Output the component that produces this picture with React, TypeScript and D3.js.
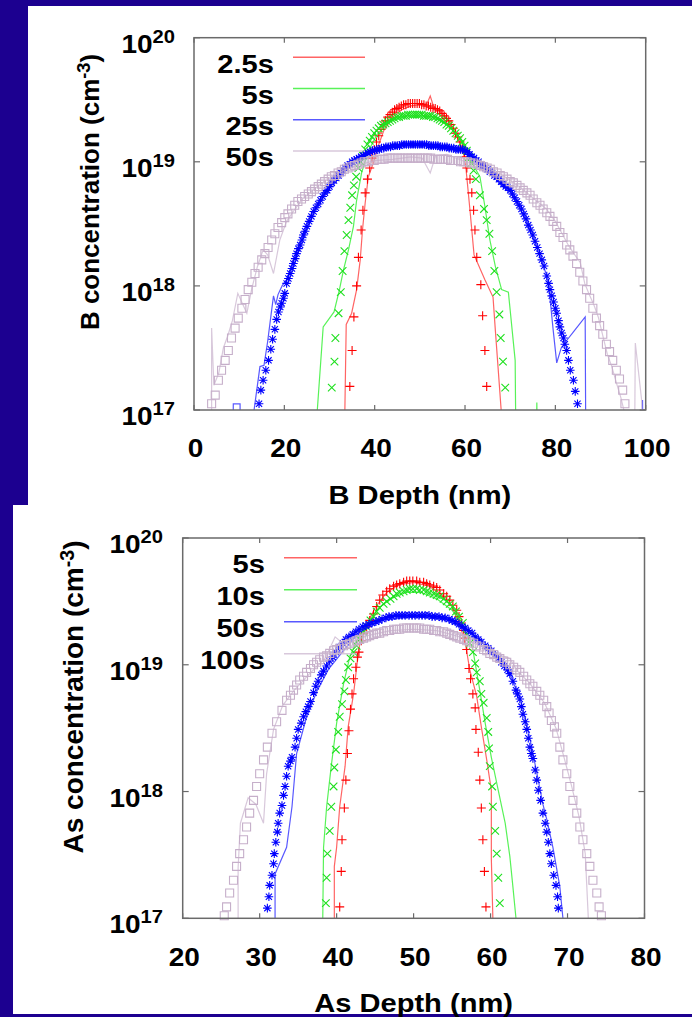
import React from "react";
import * as d3 from "d3";

type Pt = [number, number]; // [depth (nm), log10 concentration (cm^-3)]

// ---------- B profiles (top panel) ----------
const bTimes = ["2.5s", "5s", "25s", "50s"];
const bDepthTicks = [0, 20, 40, 60, 80, 100];

const b1Pts: Pt[] = [
  [34.5, 17.19], [35.0, 17.48], [35.4, 17.75], [36.0, 18.0], [36.4, 18.23], [37.0, 18.45], [37.4, 18.61],
  [37.9, 18.75], [38.4, 18.86], [38.9, 18.95], [39.4, 19.03], [39.9, 19.1], [40.4, 19.16], [40.9, 19.21],
  [41.4, 19.26], [41.9, 19.3], [42.4, 19.33], [42.9, 19.36], [43.4, 19.38], [43.9, 19.4], [44.4, 19.42],
  [44.9, 19.43], [45.4, 19.44], [45.9, 19.45], [46.4, 19.46], [46.9, 19.46], [47.4, 19.47], [47.9, 19.47],
  [48.4, 19.47], [48.9, 19.47], [49.4, 19.47], [49.9, 19.47], [50.4, 19.46], [50.9, 19.46], [51.4, 19.45],
  [51.9, 19.45], [52.4, 19.44], [52.9, 19.43], [53.4, 19.43], [53.9, 19.42], [54.4, 19.41], [54.9, 19.39],
  [55.4, 19.37], [55.9, 19.35], [56.4, 19.33], [56.9, 19.3], [57.4, 19.27], [57.9, 19.23], [58.4, 19.2],
  [58.9, 19.16], [59.4, 19.11], [59.9, 19.04], [60.4, 18.95], [61.1, 18.86], [61.5, 18.75], [61.9, 18.61],
  [62.2, 18.45], [62.6, 18.23], [63.5, 18.01], [63.9, 17.76], [64.4, 17.48], [64.8, 17.19],
];
const b1Line: Pt[] = [
  [33.4, 16.5], [33.4, 17.0], [33.7, 17.69], [34.9, 17.78], [36.0, 17.97], [36.8, 18.21], [37.3, 18.45],
  [37.9, 18.67], [38.6, 18.88], [39.7, 18.99], [41.0, 19.15], [42.0, 19.25], [44.0, 19.36], [46.0, 19.42],
  [48.0, 19.45], [50.0, 19.46], [51.6, 19.47], [52.3, 19.53], [53.0, 19.45], [54.0, 19.42], [56.0, 19.35],
  [58.0, 19.22], [59.5, 19.1], [60.2, 18.95], [61.1, 18.61], [62.0, 18.25], [64.4, 18.05], [66.2, 17.91],
  [66.7, 17.65], [67.3, 17.35], [68.0, 17.0], [68.1, 16.5],
];

const b2Pts: Pt[] = [
  [30.5, 17.18], [31.1, 17.39], [31.3, 17.58], [32.0, 17.78], [32.5, 17.95], [32.9, 18.12], [33.3, 18.28],
  [33.8, 18.41], [34.2, 18.53], [34.6, 18.63], [35.0, 18.73], [35.4, 18.81], [35.9, 18.88], [36.4, 18.95],
  [36.9, 19.0], [37.4, 19.05], [37.9, 19.1], [38.4, 19.14], [38.9, 19.17], [39.4, 19.2], [39.9, 19.23],
  [40.4, 19.25], [40.9, 19.27], [41.4, 19.29], [41.9, 19.3], [42.4, 19.31], [42.9, 19.32], [43.4, 19.33],
  [43.9, 19.34], [44.4, 19.35], [44.9, 19.36], [45.4, 19.36], [45.9, 19.37], [46.4, 19.37], [46.9, 19.37],
  [47.4, 19.38], [47.9, 19.38], [48.4, 19.38], [48.9, 19.38], [49.4, 19.38], [49.9, 19.38], [50.4, 19.38],
  [50.9, 19.37], [51.4, 19.37], [51.9, 19.37], [52.4, 19.37], [52.9, 19.36], [53.4, 19.36], [53.9, 19.35],
  [54.4, 19.34], [54.9, 19.33], [55.4, 19.32], [55.9, 19.3], [56.4, 19.29], [56.9, 19.27], [57.4, 19.25],
  [57.9, 19.23], [58.4, 19.21], [58.9, 19.19], [59.4, 19.16], [59.9, 19.13], [60.4, 19.09], [60.9, 19.04],
  [61.4, 18.99], [61.9, 18.93], [62.4, 18.86], [63.3, 18.73], [64.2, 18.62], [64.8, 18.53], [65.4, 18.42],
  [66.0, 18.28], [66.5, 18.12], [67.0, 17.95], [67.6, 17.77], [67.9, 17.58], [68.4, 17.39], [68.9, 17.18],
];
const b2Line: Pt[] = [
  [27.3, 16.5], [27.3, 17.0], [28.6, 17.67], [31.0, 17.79], [32.2, 17.97], [33.1, 18.13], [34.2, 18.29],
  [35.3, 18.48], [36.0, 18.69], [37.1, 18.91], [38.5, 19.08], [40.5, 19.22], [43.0, 19.31], [45.0, 19.35],
  [47.0, 19.37], [49.0, 19.37], [51.0, 19.37], [53.0, 19.36], [55.0, 19.32], [57.0, 19.27], [59.0, 19.19],
  [61.1, 19.02], [63.3, 18.88], [64.4, 18.64], [65.5, 18.37], [66.7, 18.16], [68.1, 17.97], [69.6, 17.95],
  [71.1, 17.4], [71.2, 17.0], [71.3, 16.5], [75.7, 16.5], [75.9, 17.06], [76.1, 16.5],
];

const b3Pts: Pt[] = [
  [14.4, 17.05], [14.8, 17.16], [15.3, 17.24], [15.9, 17.32], [16.5, 17.4], [17.0, 17.49], [17.4, 17.57],
  [17.9, 17.65], [18.3, 17.73], [18.7, 17.79], [19.1, 17.83], [19.4, 17.86], [19.8, 17.9], [20.1, 17.94],
  [20.5, 18.02], [20.9, 18.06], [21.3, 18.1], [21.7, 18.14], [22.0, 18.18], [22.4, 18.22], [22.7, 18.26],
  [23.1, 18.3], [23.5, 18.33], [23.9, 18.37], [24.2, 18.41], [24.6, 18.44], [25.0, 18.48], [25.5, 18.52],
  [26.0, 18.56], [26.5, 18.6], [27.0, 18.63], [27.5, 18.66], [28.0, 18.69], [28.5, 18.72], [29.0, 18.75],
  [29.5, 18.77], [30.0, 18.8], [30.5, 18.83], [31.0, 18.85], [31.5, 18.87], [32.0, 18.89], [32.5, 18.91],
  [33.0, 18.93], [33.5, 18.95], [34.0, 18.97], [34.5, 18.98], [35.0, 19.0], [35.5, 19.01], [36.0, 19.02],
  [36.5, 19.03], [37.0, 19.04], [37.5, 19.05], [38.0, 19.06], [38.5, 19.07], [39.0, 19.08], [39.5, 19.09],
  [40.0, 19.09], [40.5, 19.1], [41.0, 19.1], [41.5, 19.11], [42.0, 19.11], [42.5, 19.12], [43.0, 19.12],
  [43.5, 19.12], [44.0, 19.13], [44.5, 19.13], [45.0, 19.13], [45.5, 19.13], [46.0, 19.14], [46.5, 19.14],
  [47.0, 19.14], [47.5, 19.14], [48.0, 19.14], [48.5, 19.14], [49.0, 19.14], [49.5, 19.14], [50.0, 19.14],
  [50.5, 19.14], [51.0, 19.14], [51.5, 19.14], [52.0, 19.13], [52.5, 19.13], [53.0, 19.13], [53.5, 19.13],
  [54.0, 19.13], [54.5, 19.12], [55.0, 19.12], [55.5, 19.12], [56.0, 19.12], [56.5, 19.11], [57.0, 19.11],
  [57.5, 19.11], [58.0, 19.1], [58.5, 19.1], [59.0, 19.1], [59.5, 19.1], [60.0, 19.09], [60.5, 19.08],
  [61.0, 19.06], [61.5, 19.04], [62.0, 19.03], [62.5, 19.01], [63.0, 19.0], [63.5, 18.98], [64.0, 18.97],
  [64.5, 18.95], [65.0, 18.94], [65.5, 18.92], [66.0, 18.91], [66.5, 18.89], [67.0, 18.88], [67.5, 18.86],
  [68.0, 18.84], [68.5, 18.82], [69.0, 18.8], [69.5, 18.79], [70.0, 18.77], [70.5, 18.74], [71.0, 18.71],
  [71.5, 18.68], [72.0, 18.65], [72.5, 18.62], [73.0, 18.58], [73.5, 18.54], [74.0, 18.49], [74.5, 18.45],
  [75.0, 18.41], [75.5, 18.36], [76.0, 18.31], [76.5, 18.26], [77.0, 18.21], [77.5, 18.16], [78.1, 18.08],
  [78.5, 18.02], [78.8, 17.97], [79.2, 17.92], [79.6, 17.87], [80.0, 17.82], [80.3, 17.78], [80.7, 17.72],
  [81.0, 17.67], [81.4, 17.62], [81.8, 17.58], [82.1, 17.53], [82.5, 17.48], [82.9, 17.4], [83.3, 17.32],
  [84.0, 17.24], [84.4, 17.15], [84.9, 17.05],
];
const b3Line: Pt[] = [
  [8.6, 16.5], [8.7, 17.05], [10.2, 17.05], [10.3, 16.5], [13.2, 16.5], [13.3, 17.0], [14.6, 17.35],
  [15.5, 17.36], [16.3, 17.55], [17.0, 17.75], [17.6, 17.92], [18.1, 17.85], [18.6, 17.93], [19.5, 18.0],
  [20.5, 18.05], [22.0, 18.2], [23.5, 18.34], [26.4, 18.59], [30.0, 18.8], [35.0, 19.0], [40.0, 19.09],
  [45.0, 19.13], [50.0, 19.14], [55.0, 19.12], [60.0, 19.09], [65.0, 18.94], [70.0, 18.77], [73.7, 18.52],
  [76.2, 18.29], [78.1, 18.08], [78.8, 17.91], [79.5, 17.65], [80.3, 17.38], [81.3, 17.5], [82.5, 17.56],
  [84.0, 17.63], [86.6, 17.75], [86.7, 17.0], [86.8, 16.5], [99.2, 16.5], [99.3, 17.08], [99.4, 16.5],
];

const b4Pts: Pt[] = [
  [3.9, 17.05], [4.7, 17.12], [5.4, 17.24], [6.1, 17.32], [6.9, 17.4], [7.6, 17.48], [8.3, 17.58],
  [9.1, 17.66], [9.8, 17.74], [10.6, 17.82], [11.3, 17.89], [12.0, 17.97], [12.8, 18.03], [13.5, 18.1],
  [14.2, 18.15], [15.0, 18.21], [15.7, 18.26], [16.4, 18.31], [17.2, 18.37], [17.9, 18.42], [18.6, 18.47],
  [19.4, 18.51], [20.1, 18.55], [20.8, 18.58], [21.6, 18.62], [22.3, 18.65], [23.0, 18.68], [23.8, 18.7],
  [24.5, 18.72], [25.3, 18.74], [26.0, 18.76], [26.7, 18.78], [27.5, 18.8], [28.2, 18.82], [28.9, 18.84],
  [29.7, 18.86], [30.4, 18.88], [31.1, 18.89], [31.9, 18.91], [32.6, 18.92], [33.3, 18.94], [34.1, 18.95],
  [34.8, 18.96], [35.5, 18.97], [36.3, 18.98], [37.0, 18.99], [37.7, 19.0], [38.5, 19.0], [39.2, 19.01],
  [39.9, 19.01], [40.7, 19.02], [41.4, 19.02], [42.1, 19.02], [42.9, 19.03], [43.6, 19.03], [44.3, 19.03],
  [45.1, 19.03], [45.8, 19.03], [46.5, 19.03], [47.3, 19.03], [48.0, 19.03], [48.7, 19.03], [49.5, 19.03],
  [50.2, 19.03], [50.9, 19.03], [51.7, 19.03], [52.4, 19.03], [53.1, 19.02], [53.9, 19.02], [54.6, 19.02],
  [55.3, 19.02], [56.1, 19.02], [56.8, 19.01], [57.5, 19.01], [58.3, 19.01], [59.0, 19.0], [59.7, 19.0],
  [60.5, 19.0], [61.2, 18.99], [61.9, 18.99], [62.7, 18.98], [63.4, 18.97], [64.1, 18.96], [64.9, 18.95],
  [65.6, 18.94], [66.3, 18.92], [67.1, 18.91], [67.8, 18.89], [68.5, 18.88], [69.3, 18.86], [70.0, 18.84],
  [70.7, 18.83], [71.5, 18.81], [72.2, 18.79], [72.9, 18.77], [73.7, 18.75], [74.4, 18.73], [75.1, 18.7],
  [75.9, 18.67], [76.6, 18.65], [77.3, 18.62], [78.1, 18.59], [78.8, 18.56], [79.5, 18.52], [80.3, 18.48],
  [81.0, 18.43], [81.7, 18.39], [82.5, 18.33], [83.2, 18.29], [83.9, 18.24], [84.7, 18.18], [85.4, 18.11],
  [86.1, 18.04], [86.9, 17.97], [87.6, 17.9], [88.3, 17.82], [89.1, 17.74], [89.8, 17.68], [90.5, 17.61],
  [91.3, 17.53], [92.0, 17.47], [92.7, 17.4], [93.5, 17.32], [94.2, 17.25], [94.9, 17.16], [95.4, 17.05],
];
const b4Line: Pt[] = [
  [3.9, 16.5], [3.9, 17.66], [4.4, 17.2], [5.5, 17.3], [6.5, 17.5], [7.5, 17.6], [8.5, 17.72], [9.7, 17.94],
  [11.7, 17.78], [12.8, 17.98], [14.0, 18.15], [15.3, 18.29], [16.3, 18.25], [17.6, 18.1], [19.0, 18.37],
  [20.5, 18.52], [22.0, 18.6], [24.0, 18.7], [26.0, 18.76], [28.0, 18.82], [30.0, 18.87], [33.0, 18.93],
  [36.0, 18.97], [40.0, 19.01], [44.0, 19.02], [48.0, 19.04], [50.5, 19.03], [52.3, 18.91], [53.5, 19.05],
  [56.0, 19.06], [60.0, 19.0], [64.0, 18.96], [68.0, 18.9], [70.0, 18.85], [72.0, 18.8], [74.0, 18.74],
  [76.0, 18.68], [78.0, 18.62], [80.0, 18.52], [81.5, 18.42], [83.0, 18.32], [84.5, 18.24], [85.5, 18.19],
  [86.5, 18.02], [87.5, 17.93], [88.5, 17.85], [89.5, 17.75], [90.5, 17.6], [91.5, 17.45], [92.5, 17.35],
  [93.5, 17.22], [94.5, 17.1], [95.5, 16.95], [96.5, 16.5], [97.5, 16.5], [97.7, 17.54], [99.1, 17.08],
  [99.5, 16.5],
];

// ---------- As profiles (bottom panel) ----------
const asTimes = ["5s", "10s", "50s", "100s"];
const asDepthTicks = [20, 30, 40, 50, 60, 70, 80];

const a1Pts: Pt[] = [
  [40.4, 17.09], [40.6, 17.37], [40.7, 17.62], [41.0, 17.87], [41.2, 18.09], [41.4, 18.3], [41.6, 18.48],
  [41.8, 18.65], [42.0, 18.77], [42.2, 18.89], [42.5, 18.98], [42.7, 19.06], [42.9, 19.1], [43.2, 19.19],
  [43.5, 19.25], [43.9, 19.3], [44.3, 19.35], [44.8, 19.4], [45.2, 19.46], [45.6, 19.51], [46.0, 19.55],
  [46.5, 19.58], [46.9, 19.6], [47.4, 19.62], [47.8, 19.63], [48.2, 19.64], [48.7, 19.65], [49.1, 19.66],
  [49.5, 19.66], [49.9, 19.66], [50.4, 19.66], [50.8, 19.65], [51.3, 19.65], [51.7, 19.64], [52.1, 19.63],
  [52.6, 19.62], [53.0, 19.61], [53.4, 19.59], [53.9, 19.56], [54.3, 19.54], [54.7, 19.51], [55.1, 19.47],
  [55.6, 19.43], [55.9, 19.38], [56.2, 19.33], [56.5, 19.27], [56.7, 19.21], [56.9, 19.12], [57.2, 18.97],
  [57.4, 18.89], [57.7, 18.77], [58.0, 18.66], [58.1, 18.49], [58.4, 18.31], [58.6, 18.09], [58.8, 17.87],
  [59.0, 17.62], [59.2, 17.37], [59.4, 17.09],
];
const a1Line: Pt[] = [
  [39.7, 16.5], [39.7, 17.41], [40.0, 17.56], [40.4, 17.88], [41.1, 18.2], [41.5, 18.51], [42.2, 18.77],
  [42.6, 18.98], [43.0, 19.17], [44.0, 19.33], [45.0, 19.45], [46.5, 19.57], [48.0, 19.63], [50.0, 19.65],
  [52.0, 19.62], [53.5, 19.56], [55.0, 19.46], [56.0, 19.32], [56.8, 19.14], [57.3, 18.96], [58.2, 18.75],
  [58.8, 18.51], [59.5, 18.25], [60.1, 18.01], [60.1, 17.47], [60.3, 17.0], [60.3, 16.5],
];

const a2Pts: Pt[] = [
  [38.6, 17.12], [38.7, 17.32], [38.8, 17.51], [39.1, 17.69], [39.3, 17.88], [39.6, 18.04], [39.7, 18.19],
  [39.9, 18.33], [40.2, 18.47], [40.4, 18.59], [40.7, 18.69], [41.0, 18.79], [41.2, 18.88], [41.5, 18.98],
  [41.8, 19.05], [42.2, 19.1], [42.6, 19.15], [43.0, 19.2], [43.5, 19.26], [43.9, 19.3], [44.4, 19.35],
  [44.8, 19.38], [45.2, 19.42], [45.6, 19.45], [46.1, 19.48], [46.5, 19.5], [47.0, 19.52], [47.4, 19.54],
  [47.8, 19.56], [48.2, 19.57], [48.7, 19.58], [49.1, 19.59], [49.5, 19.6], [49.9, 19.6], [50.4, 19.6],
  [50.8, 19.59], [51.3, 19.59], [51.7, 19.58], [52.1, 19.57], [52.6, 19.56], [53.0, 19.55], [53.4, 19.54],
  [53.9, 19.52], [54.3, 19.5], [54.7, 19.48], [55.1, 19.46], [55.5, 19.42], [55.9, 19.38], [56.4, 19.33],
  [56.9, 19.24], [57.3, 19.17], [57.7, 19.1], [58.0, 19.01], [58.2, 18.94], [58.6, 18.87], [58.8, 18.77],
  [59.1, 18.7], [59.5, 18.58], [59.7, 18.47], [59.8, 18.34], [59.9, 18.2], [60.2, 18.04], [60.3, 17.88],
  [60.6, 17.69], [60.8, 17.51], [61.0, 17.32], [61.2, 17.12],
];
const a2Line: Pt[] = [
  [38.2, 16.5], [38.2, 17.0], [38.3, 17.56], [38.7, 17.88], [39.3, 18.2], [40.0, 18.54], [40.9, 18.85],
  [41.7, 19.06], [42.6, 19.19], [44.0, 19.33], [45.5, 19.45], [47.0, 19.52], [49.0, 19.57], [51.0, 19.57],
  [53.0, 19.52], [55.0, 19.43], [56.5, 19.3], [57.7, 19.12], [58.6, 18.8], [59.3, 18.54], [60.1, 18.27],
  [61.0, 18.01], [61.9, 17.75], [62.5, 17.49], [62.9, 17.25], [63.3, 17.0], [63.3, 16.5],
];

const a3Pts: Pt[] = [
  [31.0, 17.08], [31.2, 17.17], [31.3, 17.26], [31.6, 17.34], [31.8, 17.43], [31.9, 17.51], [32.1, 17.6],
  [32.3, 17.68], [32.4, 17.75], [32.6, 17.83], [32.9, 17.89], [33.1, 17.97], [33.3, 18.04], [33.5, 18.12],
  [33.7, 18.2], [34.0, 18.24], [34.2, 18.27], [34.6, 18.35], [34.8, 18.42], [35.0, 18.49], [35.4, 18.54],
  [35.7, 18.59], [36.0, 18.63], [36.3, 18.67], [36.6, 18.71], [37.0, 18.78], [37.3, 18.83], [37.6, 18.87],
  [38.0, 18.92], [38.3, 18.95], [38.7, 18.99], [39.1, 19.03], [39.5, 19.06], [39.9, 19.1], [40.4, 19.14],
  [40.8, 19.17], [41.2, 19.2], [41.6, 19.22], [42.1, 19.24], [42.5, 19.26], [42.9, 19.28], [43.4, 19.3],
  [43.8, 19.31], [44.2, 19.32], [44.6, 19.33], [45.1, 19.34], [45.5, 19.35], [45.9, 19.36], [46.4, 19.37],
  [46.8, 19.38], [47.2, 19.38], [47.7, 19.39], [48.1, 19.39], [48.5, 19.39], [48.9, 19.39], [49.4, 19.39],
  [49.8, 19.39], [50.2, 19.39], [50.7, 19.39], [51.1, 19.39], [51.5, 19.39], [52.0, 19.39], [52.4, 19.38],
  [52.8, 19.38], [53.3, 19.38], [53.7, 19.37], [54.1, 19.37], [54.6, 19.36], [55.0, 19.35], [55.4, 19.34],
  [55.9, 19.32], [56.3, 19.3], [56.7, 19.29], [57.1, 19.27], [57.6, 19.25], [58.0, 19.22], [58.4, 19.2],
  [58.8, 19.18], [59.3, 19.15], [59.7, 19.13], [60.1, 19.11], [60.6, 19.08], [61.0, 19.05], [61.4, 19.02],
  [61.8, 18.99], [62.2, 18.96], [62.5, 18.93], [62.9, 18.87], [63.3, 18.8], [63.5, 18.77], [63.8, 18.73],
  [64.0, 18.67], [64.2, 18.61], [64.5, 18.55], [64.7, 18.49], [64.9, 18.42], [65.1, 18.35], [65.3, 18.3],
  [65.5, 18.26], [65.8, 18.17], [66.0, 18.09], [66.2, 18.01], [66.5, 17.93], [66.8, 17.83], [67.1, 17.75],
  [67.3, 17.68], [67.5, 17.6], [67.7, 17.51], [67.9, 17.43], [68.2, 17.34], [68.5, 17.26], [68.7, 17.17],
  [68.8, 17.08],
];
const a3Line: Pt[] = [
  [32.0, 16.5], [32.0, 17.35], [33.5, 17.56], [34.2, 17.88], [34.8, 18.3], [36.1, 18.59], [37.5, 18.8],
  [39.0, 18.97], [41.0, 19.12], [43.0, 19.26], [46.0, 19.35], [50.0, 19.38], [54.0, 19.36], [57.0, 19.27],
  [60.0, 19.12], [62.5, 18.93], [64.0, 18.7], [65.0, 18.45], [66.0, 18.15], [66.8, 17.9], [67.3, 17.78],
  [68.1, 17.56], [69.0, 17.25], [69.4, 17.0], [69.4, 16.5],
];

const a4Pts: Pt[] = [
  [25.4, 17.02], [25.7, 17.09], [26.1, 17.2], [26.6, 17.3], [27.0, 17.41], [27.4, 17.51], [27.9, 17.62],
  [28.3, 17.72], [28.7, 17.83], [29.2, 17.93], [29.6, 18.04], [30.0, 18.14], [30.5, 18.25], [31.0, 18.35],
  [31.6, 18.46], [32.2, 18.55], [32.9, 18.64], [33.5, 18.72], [34.0, 18.76], [34.4, 18.8], [34.8, 18.84],
  [35.2, 18.88], [35.7, 18.91], [36.1, 18.94], [36.6, 18.97], [37.0, 19.0], [37.4, 19.02], [37.8, 19.04],
  [38.3, 19.06], [38.7, 19.07], [39.1, 19.09], [39.6, 19.11], [40.0, 19.12], [40.4, 19.13], [40.9, 19.15],
  [41.3, 19.16], [41.7, 19.17], [42.2, 19.18], [42.6, 19.19], [43.0, 19.2], [43.5, 19.21], [43.9, 19.22],
  [44.3, 19.23], [44.8, 19.24], [45.2, 19.25], [45.6, 19.25], [46.1, 19.26], [46.5, 19.27], [46.9, 19.27],
  [47.4, 19.28], [47.8, 19.28], [48.2, 19.28], [48.7, 19.29], [49.1, 19.29], [49.5, 19.29], [50.0, 19.29],
  [50.4, 19.29], [50.8, 19.29], [51.3, 19.28], [51.7, 19.28], [52.1, 19.28], [52.6, 19.27], [53.0, 19.27],
  [53.4, 19.26], [53.9, 19.26], [54.3, 19.25], [54.7, 19.24], [55.2, 19.23], [55.6, 19.22], [56.0, 19.21],
  [56.5, 19.2], [56.9, 19.19], [57.3, 19.18], [57.8, 19.17], [58.2, 19.15], [58.6, 19.14], [59.1, 19.12],
  [59.5, 19.11], [59.9, 19.09], [60.4, 19.08], [60.8, 19.06], [61.2, 19.05], [61.7, 19.03], [62.1, 19.02],
  [62.5, 19.0], [63.0, 18.98], [63.4, 18.96], [63.8, 18.94], [64.3, 18.91], [64.7, 18.88], [65.1, 18.85],
  [65.5, 18.83], [66.0, 18.79], [66.4, 18.76], [66.9, 18.72], [67.3, 18.67], [67.6, 18.62], [67.9, 18.56],
  [68.3, 18.51], [68.6, 18.46], [69.0, 18.35], [69.4, 18.25], [69.9, 18.14], [70.3, 18.04], [70.7, 17.93],
  [71.2, 17.83], [71.6, 17.72], [72.0, 17.62], [72.5, 17.51], [72.9, 17.41], [73.3, 17.3], [73.8, 17.2],
  [74.1, 17.09], [74.4, 17.02],
];
const a4Line: Pt[] = [
  [27.2, 16.5], [27.2, 17.4], [27.5, 17.75], [28.5, 17.95], [29.5, 17.9], [30.5, 17.75], [30.9, 18.14],
  [31.8, 18.49], [33.0, 18.68], [34.5, 18.8], [36.5, 18.93], [38.5, 19.05], [39.8, 19.22], [41.0, 19.16],
  [44.0, 19.23], [47.0, 19.27], [50.0, 19.28], [53.0, 19.27], [56.0, 19.22], [59.0, 19.14], [61.0, 19.08],
  [62.5, 19.05], [63.5, 18.95], [65.0, 18.86], [67.0, 18.7], [68.5, 18.5], [69.5, 18.28], [70.5, 18.05],
  [71.5, 17.8], [72.3, 17.51], [72.7, 17.0], [72.7, 16.5],
];

const decades = [17, 18, 19, 20];

// styles per series (plot order)
const markColors = ["#ff0000", "#1ee01e", "#0000ff", "#c6afca"];
const lineColors = ["#ff3030", "#20ee20", "#2020ff", "#cbb6cf"];
const SYMBOLS = [
  "M-4.5,0H4.5M0,-4.5V4.5",
  "M-3.8,-3.8L3.8,3.8M-3.8,3.8L3.8,-3.8",
  "M-4.3,0H4.3M0,-4.3V4.3M-3.1,-3.1L3.1,3.1M-3.1,3.1L3.1,-3.1",
  "M-4,-4H4V4H-4Z",
];

const FONT = "'Liberation Sans', Arial, Helvetica, sans-serif";

type PanelCfg = {
  id: string;
  x0: number; x1: number; y0: number; y1: number;
  dom: [number, number];
  ticks: number[];
  tickLblY: number;
  expRight: number;
  expDy: number;
  legTextRight: number;
  legLine: [number, number];
  legTop: number;
  legStep: number;
  xTitle: string;
  xTitleY: number;
  yTitle: string;
  yTitleX: number;
  yTitleY: number;
  yTitleSize: number;
  fs: number;
};

function Bold({ x, y, size, anchor = "middle", sx = 1.12, children }: any) {
  return (
    <text
      transform={`translate(${x},${y}) scale(${sx},1)`}
      fontSize={size}
      fontWeight="bold"
      fontFamily={FONT}
      textAnchor={anchor}
      fill="#000"
    >
      {children}
    </text>
  );
}

function Panel({ cfg, labels, data }: { cfg: PanelCfg; labels: string[]; data: { pts: Pt[]; line: Pt[] }[] }) {
  const { x0, x1, y0, y1 } = cfg;
  const x = d3.scaleLinear().domain(cfg.dom).range([x0, x1]);
  const y = d3.scaleLog().domain([1e17, 1e20]).range([y1, y0]);
  const line = d3
    .line<Pt>()
    .x(p => x(p[0]))
    .y(p => y(Math.pow(10, p[1])));
  const inside = (p: Pt) => p[1] >= 17 && p[1] <= 20 && p[0] >= cfg.dom[0] && p[0] <= cfg.dom[1];
  const frameColor = "#6a6a6a";

  return (
    <g>
      <defs>
        <clipPath id={cfg.id}>
          <rect x={x0} y={y0} width={x1 - x0} height={y1 - y0} />
        </clipPath>
      </defs>

      {/* ticks */}
      {cfg.ticks.map(t => (
        <g key={"xt" + t} stroke={frameColor} strokeWidth={1.2}>
          <line x1={x(t)} x2={x(t)} y1={y1} y2={y1 - 5} />
          <line x1={x(t)} x2={x(t)} y1={y0} y2={y0 + 5} />
        </g>
      ))}
      {decades.map(e => (
        <g key={"yt" + e} stroke={frameColor} strokeWidth={1.2}>
          <line x1={x0} x2={x0 + 6} y1={y(Math.pow(10, e))} y2={y(Math.pow(10, e))} />
          <line x1={x1} x2={x1 - 6} y1={y(Math.pow(10, e))} y2={y(Math.pow(10, e))} />
        </g>
      ))}

      {/* data */}
      {data.map((s, i) => (
        <g key={"s" + i}>
          <path
            d={line(s.line) || ""}
            fill="none"
            stroke={lineColors[i]}
            strokeOpacity={0.75}
            strokeWidth={1.2}
            clipPath={`url(#${cfg.id})`}
          />
          {s.pts.filter(inside).map((p, j) => (
            <path
              key={j}
              transform={`translate(${x(p[0])},${y(Math.pow(10, p[1]))})`}
              d={SYMBOLS[i]}
              fill="none"
              stroke={markColors[i]}
              strokeWidth={1.1}
            />
          ))}
        </g>
      ))}

      {/* legend */}
      {labels.map((lab, i) => {
        const ly = cfg.legTop + i * cfg.legStep;
        return (
          <g key={"lg" + i}>
            <line x1={cfg.legLine[0]} x2={cfg.legLine[1]} y1={ly} y2={ly} stroke={lineColors[i]} strokeOpacity={0.75} strokeWidth={1.5} />
            <Bold x={cfg.legTextRight} y={ly + 15.5} size={cfg.fs + 1} anchor="end">{lab}</Bold>
          </g>
        );
      })}

      {/* frame */}
      <rect x={x0} y={y0} width={x1 - x0} height={y1 - y0} fill="none" stroke={frameColor} strokeWidth={1.5} />

      {/* tick labels */}
      {cfg.ticks.map(t => (
        <Bold key={"xl" + t} x={x(t) + 1.5} y={cfg.tickLblY} size={cfg.fs}>{t}</Bold>
      ))}
      {decades.map(e => (
        <Bold key={"yl" + e} x={cfg.expRight} y={y(Math.pow(10, e)) + cfg.expDy} size={cfg.fs} anchor="end">
          10
          <tspan fontSize={cfg.fs * 0.72} dy={-10}>{e}</tspan>
        </Bold>
      ))}

      {/* axis titles */}
      <Bold x={(x0 + x1) / 2} y={cfg.xTitleY} size={cfg.fs + 1}>{cfg.xTitle}</Bold>
      <text
        transform={`translate(${cfg.yTitleX},${cfg.yTitleY}) rotate(-90)`}
        fontSize={cfg.yTitleSize}
        fontWeight="bold"
        fontFamily={FONT}
        textAnchor="middle"
      >
        {cfg.yTitle} (cm
        <tspan fontSize={cfg.yTitleSize * 0.7} dy={-9}>-3</tspan>
        <tspan dy={9}>)</tspan>
      </text>
    </g>
  );
}

const topCfg: PanelCfg = {
  id: "clipB",
  x0: 194, x1: 645.7, y0: 37.7, y1: 410,
  dom: [0, 100],
  ticks: bDepthTicks,
  tickLblY: 457,
  expRight: 175,
  expDy: 15,
  legTextRight: 274,
  legLine: [293, 365],
  legTop: 57.3,
  legStep: 31.2,
  xTitle: "B Depth (nm)",
  xTitleY: 504,
  yTitle: "B concentration",
  yTitleX: 99,
  yTitleY: 192,
  yTitleSize: 26,
  fs: 25,
};

const botCfg: PanelCfg = {
  id: "clipAs",
  x0: 182.7, x1: 644.5, y0: 538, y1: 918.3,
  dom: [20, 80],
  ticks: asDepthTicks,
  tickLblY: 966,
  expRight: 163,
  expDy: 15,
  legTextRight: 265,
  legLine: [284, 357],
  legTop: 557.7,
  legStep: 32,
  xTitle: "As Depth (nm)",
  xTitleY: 1012,
  yTitle: "As concentration",
  yTitleX: 83,
  yTitleY: 697,
  yTitleSize: 28,
  fs: 25,
};

export default function App() {
  return (
    <div style={{ position: "absolute", left: 0, top: 0 }}>
      <svg width={692} height={1017} style={{ display: "block" }}>
        <rect x={0} y={0} width={692} height={1017} fill="#1c0090" />
        <rect x={28} y={6} width={664} height={499} fill="#fff" />
        <rect x={13} y={505} width={679} height={509} fill="#fff" />
        <Panel
          cfg={topCfg}
          labels={bTimes}
          data={[
            { pts: b1Pts, line: b1Line },
            { pts: b2Pts, line: b2Line },
            { pts: b3Pts, line: b3Line },
            { pts: b4Pts, line: b4Line },
          ]}
        />
        <Panel
          cfg={botCfg}
          labels={asTimes}
          data={[
            { pts: a1Pts, line: a1Line },
            { pts: a2Pts, line: a2Line },
            { pts: a3Pts, line: a3Line },
            { pts: a4Pts, line: a4Line },
          ]}
        />
      </svg>
    </div>
  );
}
